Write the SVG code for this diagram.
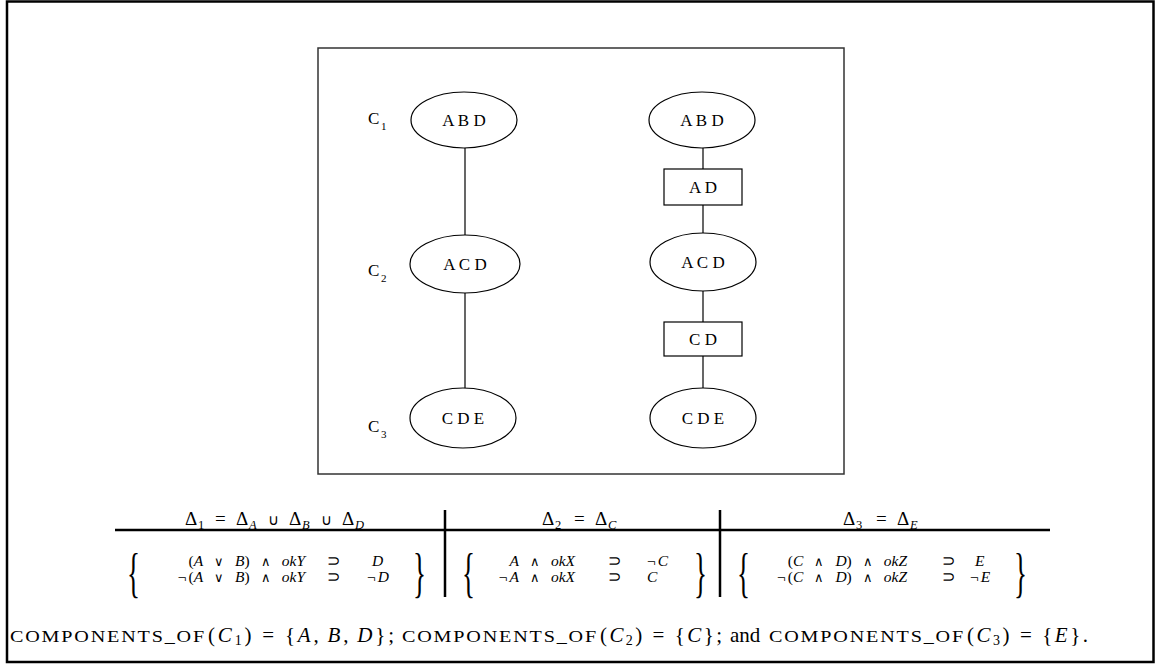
<svg xmlns="http://www.w3.org/2000/svg" width="1156" height="664" viewBox="0 0 1156 664">
<style>
.frame{fill:none;stroke:#000;stroke-width:2.5}
.box{fill:none;stroke:#333;stroke-width:1.5}
.node{fill:#fff;stroke:#000;stroke-width:1.2}
.edge{stroke:#000;stroke-width:1.2;fill:none}
.lbl{font-family:"Liberation Serif",serif;font-size:17px;text-anchor:middle;fill:#000}
.cl{font-family:"Liberation Serif",serif;font-size:17px;fill:#000}
.cs{font-family:"Liberation Serif",serif;font-size:11px;fill:#000}
.h{font-family:"Liberation Serif",serif;font-size:19px;fill:#000}
.hs{font-size:12.5px}
.op{font-size:15px}
.r{font-family:"Liberation Serif",serif;font-size:15.5px;fill:#000}
.o{font-size:13px}
.i{font-style:italic}
.rule{stroke:#000;stroke-width:2.5}
.brace{font-family:"Liberation Serif",serif;font-size:54px;fill:#000}
.b{font-family:"Liberation Serif",serif;font-size:21px;fill:#000}
.sc{font-family:"Liberation Serif",serif;font-size:16.5px;letter-spacing:1.5px;fill:#000}
.cap{font-size:14px}
</style>
<rect class="frame" x="7" y="1.5" width="1146.5" height="660.5"/>
<rect class="box" x="318" y="48" width="526" height="426"/>
<g id="connectors">
<line class="edge" x1="465" y1="148" x2="465" y2="235"/>
<line class="edge" x1="465" y1="293" x2="465" y2="388"/>
<line class="edge" x1="703" y1="148" x2="703" y2="169"/>
<line class="edge" x1="703" y1="205" x2="703" y2="233"/>
<line class="edge" x1="703" y1="291" x2="703" y2="322"/>
<line class="edge" x1="703" y1="356" x2="703" y2="388"/>
</g>
<g id="lbl-c1"><text class="cl" x="368" y="124">C</text><text class="cs" x="381" y="130">1</text></g>
<g id="lbl-c2"><text class="cl" x="368" y="276">C</text><text class="cs" x="381" y="282">2</text></g>
<g id="lbl-c3"><text class="cl" x="368" y="432">C</text><text class="cs" x="381" y="438">3</text></g>
<g id="l-abd"><ellipse class="node" cx="464" cy="120" rx="53" ry="28"/><text class="lbl" x="464" y="126" xml:space="preserve">A B D</text></g>
<g id="l-acd"><ellipse class="node" cx="465" cy="264" rx="55" ry="29"/><text class="lbl" x="465" y="270" xml:space="preserve">A C D</text></g>
<g id="l-cde"><ellipse class="node" cx="463" cy="418" rx="53" ry="30"/><text class="lbl" x="463" y="424" xml:space="preserve">C D E</text></g>
<g id="r-abd"><ellipse class="node" cx="702" cy="120" rx="53" ry="28"/><text class="lbl" x="702" y="126" xml:space="preserve">A B D</text></g>
<g id="r-ad"><rect class="node" x="664" y="169" width="78" height="36"/><text class="lbl" x="703" y="193" xml:space="preserve">A D</text></g>
<g id="r-acd"><ellipse class="node" cx="703" cy="262" rx="53" ry="29"/><text class="lbl" x="703" y="268" xml:space="preserve">A C D</text></g>
<g id="r-cd"><rect class="node" x="664" y="322" width="78" height="34"/><text class="lbl" x="703" y="345" xml:space="preserve">C D</text></g>
<g id="r-cde"><ellipse class="node" cx="703" cy="418" rx="53" ry="30"/><text class="lbl" x="703" y="424" xml:space="preserve">C D E</text></g>
<g id="table">
<line class="rule" x1="115" y1="530" x2="1050" y2="530"/>
<line class="rule" x1="445" y1="510" x2="445" y2="597"/>
<line class="rule" x1="720" y1="510" x2="720" y2="597"/>
<text class="h" y="525"><tspan x="185">Δ</tspan><tspan class="hs" x="198" y="529">1</tspan><tspan x="215" y="525">=</tspan><tspan x="236">Δ</tspan><tspan class="hs i" x="249" y="529">A</tspan><tspan class="op" x="268" y="525">∪</tspan><tspan x="289">Δ</tspan><tspan class="hs i" x="302" y="529">B</tspan><tspan class="op" x="321" y="525">∪</tspan><tspan x="342">Δ</tspan><tspan class="hs i" x="355" y="529">D</tspan></text>
<text class="h" y="525"><tspan x="542">Δ</tspan><tspan class="hs" x="555" y="529">2</tspan><tspan x="574" y="525">=</tspan><tspan x="595">Δ</tspan><tspan class="hs i" x="608" y="529">C</tspan></text>
<text class="h" y="525"><tspan x="843">Δ</tspan><tspan class="hs" x="856" y="529">3</tspan><tspan x="876" y="525">=</tspan><tspan x="897">Δ</tspan><tspan class="hs i" x="910" y="529">E</tspan></text>
<text class="brace" transform="translate(127,591) scale(0.5,1)">{</text>
<text class="brace" transform="translate(413,591) scale(0.5,1)">}</text>
<text class="r" x="305" y="566" text-anchor="end">(<tspan class="i">A</tspan><tspan class="o" dx="11">∨</tspan><tspan class="i" dx="11">B</tspan>)<tspan class="o" dx="11">∧</tspan><tspan class="i" dx="11">okY</tspan></text>
<text class="r" x="305" y="582" text-anchor="end">¬<tspan dx="2">(</tspan><tspan class="i">A</tspan><tspan class="o" dx="11">∨</tspan><tspan class="i" dx="11">B</tspan>)<tspan class="o" dx="11">∧</tspan><tspan class="i" dx="11">okY</tspan></text>
<text class="r" x="327" y="566">⊃</text><text class="r" x="327" y="582">⊃</text>
<text class="r i" x="372" y="566">D</text>
<text class="r" x="367" y="582">¬<tspan class="i" dx="2">D</tspan></text>
<text class="brace" transform="translate(462,591) scale(0.5,1)">{</text>
<text class="brace" transform="translate(694,591) scale(0.5,1)">}</text>
<text class="r" x="575" y="566" text-anchor="end"><tspan class="i">A</tspan><tspan class="o" dx="11">∧</tspan><tspan class="i" dx="11">okX</tspan></text>
<text class="r" x="575" y="582" text-anchor="end">¬<tspan class="i" dx="2">A</tspan><tspan class="o" dx="11">∧</tspan><tspan class="i" dx="11">okX</tspan></text>
<text class="r" x="608" y="566">⊃</text><text class="r" x="608" y="582">⊃</text>
<text class="r" x="647" y="566">¬<tspan class="i" dx="2">C</tspan></text>
<text class="r i" x="647" y="582">C</text>
<text class="brace" transform="translate(737,591) scale(0.5,1)">{</text>
<text class="brace" transform="translate(1014,591) scale(0.5,1)">}</text>
<text class="r" x="907" y="566" text-anchor="end">(<tspan class="i">C</tspan><tspan class="o" dx="11">∧</tspan><tspan class="i" dx="11">D</tspan>)<tspan class="o" dx="11">∧</tspan><tspan class="i" dx="11">okZ</tspan></text>
<text class="r" x="907" y="582" text-anchor="end">¬<tspan dx="2">(</tspan><tspan class="i">C</tspan><tspan class="o" dx="11">∧</tspan><tspan class="i" dx="11">D</tspan>)<tspan class="o" dx="11">∧</tspan><tspan class="i" dx="11">okZ</tspan></text>
<text class="r" x="942" y="566">⊃</text><text class="r" x="942" y="582">⊃</text>
<text class="r i" x="975" y="566">E</text>
<text class="r" x="970" y="582">¬<tspan class="i" dx="2">E</tspan></text>
</g>
<g id="caption">
<text class="sc" x="10" y="642" textLength="196" lengthAdjust="spacingAndGlyphs">COMPONENTS_OF</text>
<text class="b" x="208" y="642" textLength="186" lengthAdjust="spacing">(<tspan class="i">C</tspan><tspan class="cap" dy="3">1</tspan><tspan dy="-3">)</tspan><tspan dx="8">=</tspan><tspan dx="8">{</tspan><tspan class="i">A</tspan>,<tspan class="i" dx="6">B</tspan>,<tspan class="i" dx="6">D</tspan>};</text>
<text class="sc" x="402" y="642" textLength="196" lengthAdjust="spacingAndGlyphs">COMPONENTS_OF</text>
<text class="b" x="600" y="642" textLength="122" lengthAdjust="spacing">(<tspan class="i">C</tspan><tspan class="cap" dy="3">2</tspan><tspan dy="-3">)</tspan><tspan dx="8">=</tspan><tspan dx="8">{</tspan><tspan class="i">C</tspan>};</text>
<text class="b" x="730" y="642">and</text>
<text class="sc" x="769" y="642" textLength="196" lengthAdjust="spacingAndGlyphs">COMPONENTS_OF</text>
<text class="b" x="967" y="642" textLength="121" lengthAdjust="spacing">(<tspan class="i">C</tspan><tspan class="cap" dy="3">3</tspan><tspan dy="-3">)</tspan><tspan dx="8">=</tspan><tspan dx="8">{</tspan><tspan class="i">E</tspan>}.</text>
</g>
</svg>
